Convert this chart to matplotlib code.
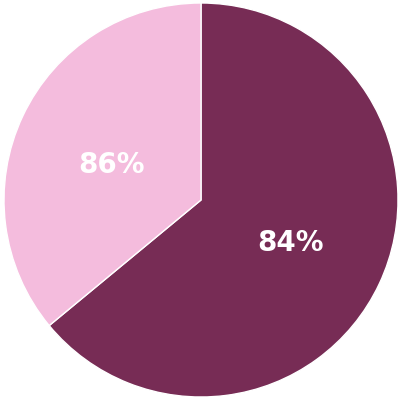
import matplotlib.pyplot as plt

# Datos
shares = [64, 36]
slice_labels = ['84%', '86%']
colors = ['#772c55', '#f4bcdd']

fig = plt.figure(figsize=(4.02, 4.02), dpi=100)
ax = fig.add_axes([0, 0, 1, 1])

wedges, texts = ax.pie(shares, labels=slice_labels, colors=colors,
                       startangle=90, counterclock=False,
                       labeldistance=0.5,
                       wedgeprops=dict(edgecolor='white', linewidth=1.0),
                       textprops=dict(color='white', fontsize=20,
                                      fontweight='bold', ha='center',
                                      va='center'))

# la etiqueta clara está un poco más abajo en el original
x, y = texts[1].get_position()
texts[1].set_position((x, y - 0.03))

lim = 402 / (2 * 197)
ax.set_xlim(-lim, lim)
ax.set_ylim(-lim, lim)
ax.set_aspect('equal')
ax.axis('off')

fig.savefig('out.png', dpi=100, facecolor='white')
